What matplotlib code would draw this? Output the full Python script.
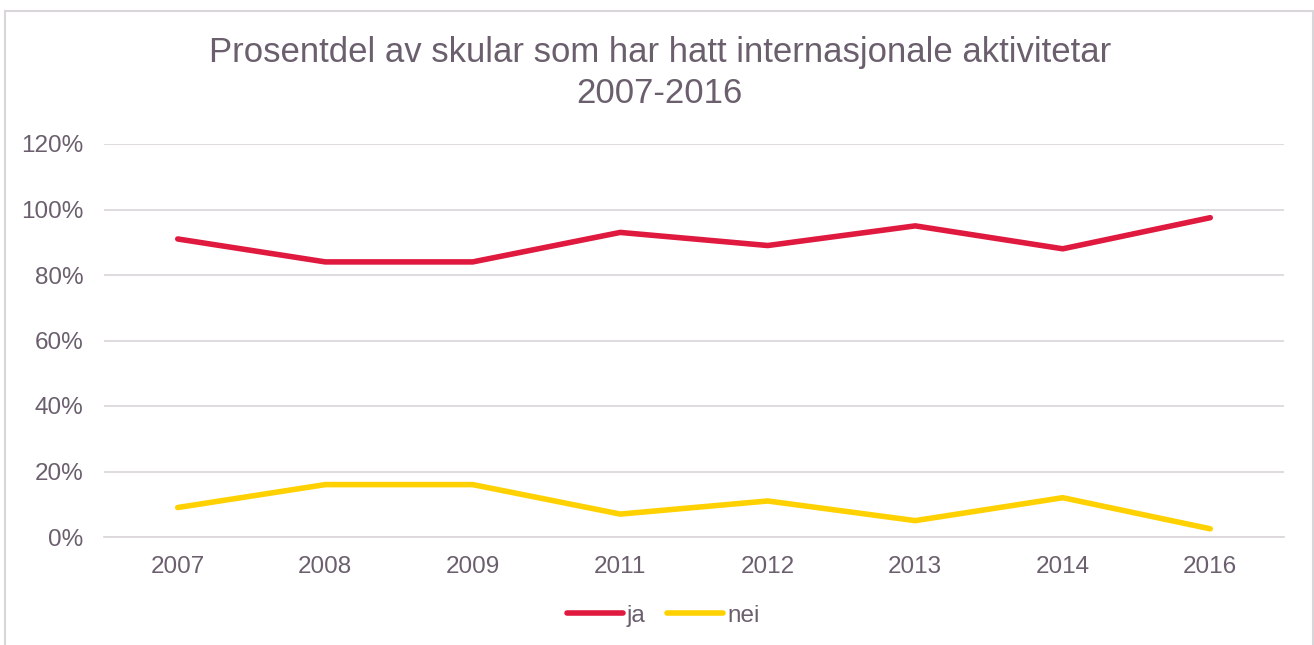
import matplotlib.pyplot as plt
from matplotlib.patches import Rectangle

plt.rcParams['font.family'] = ['Liberation Sans', 'DejaVu Sans']

years = ["2007", "2008", "2009", "2011", "2012", "2013", "2014", "2016"]
ja = [91, 84, 84, 93, 89, 95, 88, 97.5]
nei = [9, 16, 16, 7, 11, 5, 12, 2.5]
yticks = [0, 20, 40, 60, 80, 100, 120]

txt = "#6b5f6e"
grid = "#dcd8dc"

fig = plt.figure(figsize=(13.14, 6.45), dpi=100)
fig.patches.append(Rectangle((5 / 1314, -0.1), 1308 / 1314, 1 - 11 / 645 + 0.1,
                             transform=fig.transFigure, fill=False,
                             edgecolor="#d9d6d9", linewidth=1.5))

ax = fig.add_axes([104 / 1314, 1 - 537 / 645, 1180 / 1314, 393 / 645])
x = range(len(years))
ax.plot(x, ja, color="#e0193f", linewidth=4, solid_capstyle="round", label="ja")
ax.plot(x, nei, color="#ffd100", linewidth=4, solid_capstyle="round", label="nei")

ax.set_xlim(-0.5, len(years) - 0.5)
ax.set_ylim(0, 120)
ax.set_yticks(yticks)
ax.set_yticklabels([f"{v}%" for v in yticks])
ax.set_xticks(list(x))
ax.set_xticklabels(years)
ax.tick_params(axis="both", length=0, labelsize=17.5, colors=txt)
ax.tick_params(axis="y", pad=15)
ax.tick_params(axis="x", pad=14)
ax.grid(axis="y", color=grid, linewidth=1.3)
ax.set_axisbelow(True)
for s in ["top", "right", "left"]:
    ax.spines[s].set_visible(False)
ax.spines["bottom"].set_color(grid)
ax.spines["bottom"].set_linewidth(1.3)

fig.text(0.502, 1 - 73 / 645, "Prosentdel av skular som har hatt internasjonale aktivitetar\n2007-2016",
         ha="center", va="center", fontsize=25, color=txt, linespacing=1.3)

leg = ax.legend(loc="center", bbox_to_anchor=(0.474, -0.2), ncol=2, frameon=False,
                fontsize=17.5, handlelength=2.3, handletextpad=0.15, columnspacing=0.9)
for t in leg.get_texts():
    t.set_color(txt)

fig.savefig("out.png", dpi=100)
